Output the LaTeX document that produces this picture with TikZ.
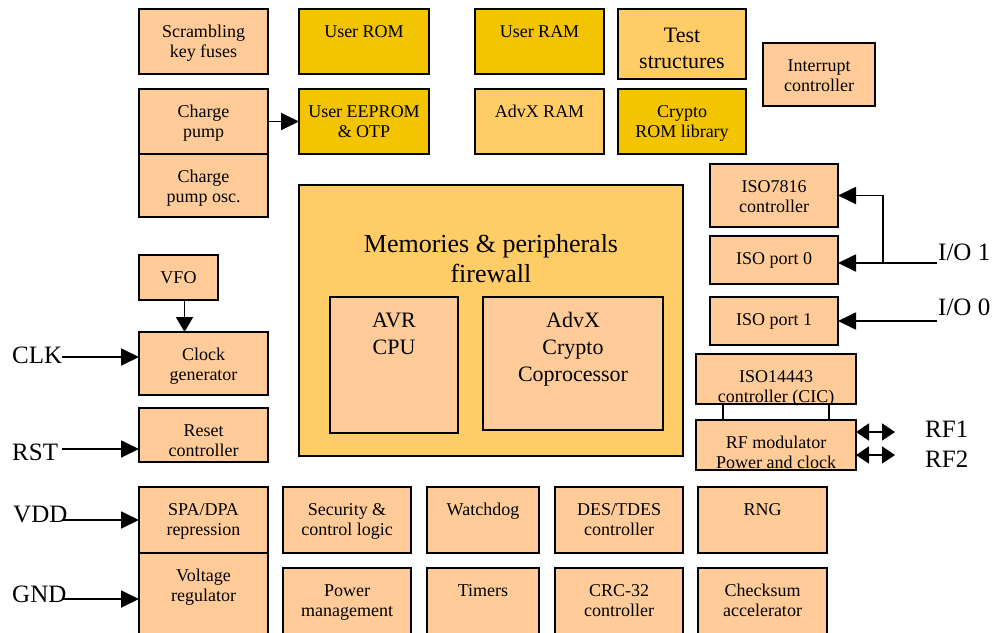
\documentclass[tikz,border=0pt]{standalone}
\usepackage{fontspec}
\setmainfont{Liberation Serif}
\usetikzlibrary{arrows.meta}
\definecolor{peach}{RGB}{255,204,153}
\definecolor{gold}{RGB}{242,197,0}
\definecolor{amber}{RGB}{255,204,102}

\begin{document}
\begin{tikzpicture}[x=1pt,y=-1pt,
  blk/.style={draw, line width=1.5pt, inner sep=0pt, outer sep=0pt, anchor=north west},
  txt/.style={anchor=north, inner sep=0pt, align=center, yshift=#1, font=\fontsize{18}{20}\selectfont},
  txt/.default=-14pt,
  side/.style={anchor=base west, inner sep=0pt, font=\fontsize{25}{30}\selectfont},
  arr/.style={line width=1.8pt, -{Triangle[length=18pt,width=17pt]}},
  dbl/.style={line width=1.8pt, {Triangle[length=13pt,width=17pt]}-{Triangle[length=13pt,width=17pt]}}]
\useasboundingbox (0,0) rectangle (992,632);
\clip (0,0) rectangle (992,632);

% top rows: fuses, memories
\node[blk, fill=peach, minimum width=129, minimum height=65, label={[txt]north:{\strut Scrambling\\key fuses}}] (fuses) at (139,9) {};
\node[blk, fill=gold, minimum width=130, minimum height=65, label={[txt]north:{\strut User ROM}}] (urom) at (299,9) {};
\node[blk, fill=gold, minimum width=129, minimum height=65, label={[txt]north:{\strut User RAM}}] (uram) at (475,9) {};
\node[blk, fill=amber, minimum width=128, minimum height=70, label={[txt=-15pt, font=\fontsize{22}{26}\selectfont]north:{\strut Test\\structures}}] (test) at (618,9) {};
\node[blk, fill=peach, minimum width=112, minimum height=63, label={[txt]north:{\strut Interrupt\\controller}}] (irq) at (763,43) {};
\node[blk, fill=peach, minimum width=129, minimum height=65, label={[txt]north:{\strut Charge\\pump}}] (cpump) at (139,89) {};
\node[blk, fill=peach, minimum width=129, minimum height=63, label={[txt]north:{\strut Charge\\pump osc.}}] (cposc) at (139,154) {};
\node[blk, fill=gold, minimum width=130, minimum height=65, label={[txt]north:{\strut User EEPROM\\\& OTP}}] (eeprom) at (299,89) {};
\node[blk, fill=amber, minimum width=129, minimum height=65, label={[txt]north:{\strut AdvX RAM}}] (advram) at (475,89) {};
\node[blk, fill=gold, minimum width=128, minimum height=65, label={[txt]north:{\strut Crypto\\ROM library}}] (cryrom) at (618,89) {};
\draw[arr] (cpump.east) -- (eeprom.west);

% firewall with cpu and coprocessor
\node[blk, fill=amber, minimum width=384, minimum height=271, label={[txt=-46pt, font=\fontsize{26}{30}\selectfont]north:{\strut Memories \& peripherals\\firewall}}] (fw) at (299,185) {};
\node[blk, fill=peach, minimum width=128, minimum height=136, label={[txt=-11pt, font=\fontsize{22}{27}\selectfont]north:{\strut AVR\\CPU}}] (avr) at (330,297) {};
\node[blk, fill=peach, minimum width=180, minimum height=133, label={[txt=-11pt, font=\fontsize{22}{27}\selectfont]north:{\strut AdvX\\Crypto\\Coprocessor}}] (advx) at (483,297) {};

% left column
\node[blk, fill=peach, minimum width=79, minimum height=45, label={[txt]north:{\strut VFO}}] (vfo) at (139,255) {};
\node[blk, fill=peach, minimum width=129, minimum height=63, label={[txt]north:{\strut Clock\\generator}}] (clkgen) at (139,332) {};
\node[blk, fill=peach, minimum width=129, minimum height=54, label={[txt]north:{\strut Reset\\controller}}] (rstc) at (139,408) {};
\node[blk, fill=peach, minimum width=129, minimum height=66, label={[txt]north:{\strut SPA/DPA\\repression}}] (spa) at (139,487) {};
\node[blk, fill=peach, minimum width=129, minimum height=90, label={[txt]north:{\strut Voltage\\regulator}}] (vreg) at (139,553) {};
\draw[arr, -{Triangle[length=15pt,width=17pt]}] ([xshift=6pt]vfo.south) -- ([xshift=6pt]vfo.south |- clkgen.north);

% bottom rows
\node[blk, fill=peach, minimum width=128, minimum height=66, label={[txt]north:{\strut Security \&\\control logic}}] (secl) at (283,487) {};
\node[blk, fill=peach, minimum width=112, minimum height=66, label={[txt]north:{\strut Watchdog}}] (wdog) at (427,487) {};
\node[blk, fill=peach, minimum width=128, minimum height=66, label={[txt]north:{\strut DES/TDES\\controller}}] (des) at (555,487) {};
\node[blk, fill=peach, minimum width=129, minimum height=66, label={[txt]north:{\strut RNG}}] (rng) at (698,487) {};
\node[blk, fill=peach, minimum width=128, minimum height=75, label={[txt]north:{\strut Power\\management}}] (pwr) at (283,568) {};
\node[blk, fill=peach, minimum width=112, minimum height=75, label={[txt]north:{\strut Timers}}] (tmr) at (427,568) {};
\node[blk, fill=peach, minimum width=128, minimum height=75, label={[txt]north:{\strut CRC-32\\controller}}] (crc) at (555,568) {};
\node[blk, fill=peach, minimum width=129, minimum height=75, label={[txt]north:{\strut Checksum\\accelerator}}] (cks) at (698,568) {};

% right column: ISO blocks
\node[blk, fill=peach, minimum width=128, minimum height=63, label={[txt]north:{\strut ISO7816\\controller}}] (iso7816) at (710,164) {};
\node[blk, fill=peach, minimum width=128, minimum height=48, label={[txt]north:{\strut ISO port 0}}] (iso0) at (710,236) {};
\node[blk, fill=peach, minimum width=128, minimum height=48, label={[txt]north:{\strut ISO port 1}}] (iso1) at (710,297) {};
\node[blk, fill=peach, minimum width=160, minimum height=50, label={[txt]north:{\strut ISO14443\\controller (CIC)}}] (cic) at (696,354) {};
\node[blk, fill=peach, minimum width=160, minimum height=50, label={[txt]north:{\strut RF modulator\\Power and clock}}] (rfmod) at (696,420) {};
\draw[line width=1.5pt] ([xshift=-53pt]cic.south) -- ([xshift=-53pt]rfmod.north);
\draw[line width=1.5pt] ([xshift=53pt]cic.south) -- ([xshift=53pt]rfmod.north);

% pins
\node[side] (clk) at (12,363) {CLK};
\node[side] (rst) at (12,460) {RST};
\node[side] (vdd) at (13,522) {VDD};
\node[side] (gnd) at (12,602) {GND};
\node[side] (io1) at (938,260) {I/O 1};
\node[side] (io0) at (938,315) {I/O 0};
\node[side] (rf1) at (925,437) {RF1};
\node[side] (rf2) at (925,467) {RF2};

\coordinate (clkin) at (62,357);
\coordinate (rstin) at (62,449);
\coordinate (vddin) at (62,520);
\coordinate (gndin) at (62,599);
\draw[arr] (clkin) -- (clkin -| clkgen.west);
\draw[arr] (rstin) -- (rstin -| rstc.west);
\draw[arr] (vddin) -- (vddin -| spa.west);
\draw[arr] (gndin) -- (gndin -| vreg.west);

\coordinate (io1in) at (937,263);
\coordinate (io1br) at (883,263);
\coordinate (io0in) at (937,321);
\draw[arr] (io1in) -- (io1in -| iso0.east);
\draw[arr] (io1br) |- (iso7816.east);
\draw[arr] (io0in) -- (io0in -| iso1.east);

\coordinate (rf1end) at (895,432);
\coordinate (rf2end) at (895,455);
\draw[dbl] (rf1end -| rfmod.east) -- (rf1end);
\draw[dbl] (rf2end -| rfmod.east) -- (rf2end);
\end{tikzpicture}
\end{document}
